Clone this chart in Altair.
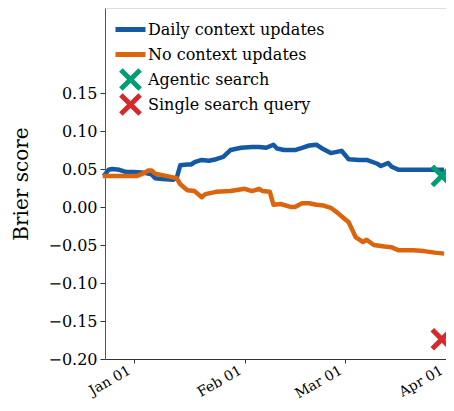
import altair as alt
import pandas as pd

# ---- data ----
series_names = ["Daily context updates", "No context updates", "Agentic search", "Single search query"]
series_colors = ["#1459a4", "#dc640c", "#009e73", "#d62a2a"]

blue_dates = ["2024-12-24", "2024-12-25", "2024-12-26", "2024-12-28", "2024-12-30", "2025-01-01",
              "2025-01-04", "2025-01-06", "2025-01-07", "2025-01-09", "2025-01-12", "2025-01-13",
              "2025-01-14", "2025-01-16", "2025-01-17", "2025-01-18", "2025-01-20", "2025-01-22",
              "2025-01-24", "2025-01-26", "2025-01-28", "2025-01-31", "2025-02-03", "2025-02-05",
              "2025-02-07", "2025-02-09", "2025-02-10", "2025-02-12", "2025-02-15", "2025-02-17",
              "2025-02-19", "2025-02-21", "2025-02-23", "2025-02-25", "2025-02-28", "2025-03-02",
              "2025-03-05", "2025-03-07", "2025-03-10", "2025-03-11", "2025-03-13", "2025-03-14",
              "2025-03-16", "2025-03-28"]
blue_vals = [0.043, 0.049, 0.050, 0.049, 0.046, 0.046,
             0.045, 0.043, 0.038, 0.037, 0.036, 0.038,
             0.055, 0.056, 0.056, 0.059, 0.062, 0.061,
             0.063, 0.066, 0.075, 0.078, 0.079, 0.079,
             0.078, 0.082, 0.077, 0.075, 0.075, 0.078,
             0.081, 0.082, 0.076, 0.071, 0.074, 0.063,
             0.062, 0.062, 0.057, 0.054, 0.058, 0.053,
             0.049, 0.049]

orange_dates = ["2024-12-24", "2025-01-02", "2025-01-04", "2025-01-05", "2025-01-06", "2025-01-07",
                "2025-01-08", "2025-01-10", "2025-01-12", "2025-01-13", "2025-01-14", "2025-01-16",
                "2025-01-18", "2025-01-20", "2025-01-21", "2025-01-24", "2025-01-28", "2025-02-01",
                "2025-02-03", "2025-02-05", "2025-02-06", "2025-02-08", "2025-02-09", "2025-02-11",
                "2025-02-14", "2025-02-15", "2025-02-17", "2025-02-19", "2025-02-21", "2025-02-23",
                "2025-02-25", "2025-02-27", "2025-02-28", "2025-03-02", "2025-03-03", "2025-03-04",
                "2025-03-06", "2025-03-07", "2025-03-09", "2025-03-12", "2025-03-14", "2025-03-16",
                "2025-03-20", "2025-03-23", "2025-03-26", "2025-03-28"]
orange_vals = [0.041, 0.041, 0.045, 0.048, 0.048, 0.044,
               0.043, 0.041, 0.039, 0.038, 0.030, 0.022,
               0.021, 0.013, 0.017, 0.020, 0.021, 0.024,
               0.021, 0.024, 0.021, 0.020, 0.003, 0.004,
               0.000, 0.000, 0.005, 0.005, 0.003, 0.002,
               -0.001, -0.008, -0.012, -0.020, -0.030, -0.040,
               -0.046, -0.043, -0.050, -0.052, -0.053, -0.057,
               -0.057, -0.058, -0.060, -0.061]

marker_names = ["Agentic search", "Single search query"]
marker_dates = ["2025-03-28", "2025-03-28"]
marker_vals = [0.041, -0.174]

y_ticks = [-0.20, -0.15, -0.10, -0.05, 0.00, 0.05, 0.10, 0.15]

# ---- tables ----
lines_df = pd.concat([
    pd.DataFrame({"date": blue_dates, "value": blue_vals, "series": series_names[0]}),
    pd.DataFrame({"date": orange_dates, "value": orange_vals, "series": series_names[1]}),
])
markers_df = pd.DataFrame({"date": marker_dates, "value": marker_vals, "series": marker_names})

FONT = "DejaVu Serif"
X_PATH = "M-0.64,-0.64L0.64,0.64M-0.64,0.64L0.64,-0.64M-1,0L-1,0M1,0L1,0"
LINE_PATH = "M-1,0L1,0M0,-0.64L0,-0.64M0,0.64L0,0.64"

x_scale = alt.Scale(type="utc",
                    domain=[alt.DateTime(year=2024, month=12, date=24, utc=True),
                            alt.DateTime(year=2025, month=4, date=1, hours=12, utc=True)])
y_scale = alt.Scale(domain=[-0.2, 0.262], nice=False, zero=False)

x_axis = alt.Axis(title=None, labelExpr="utcFormat(datum.value, '%b %d')", labelAngle=-30,
                  values=[alt.DateTime(year=2025, month=1, date=1, utc=True),
                          alt.DateTime(year=2025, month=2, date=1, utc=True),
                          alt.DateTime(year=2025, month=3, date=1, utc=True),
                          alt.DateTime(year=2025, month=4, date=1, utc=True)],
                  grid=False, labelFontSize=14, labelFont=FONT, labelColor="#000",
                  tickSize=4, labelPadding=0, domainColor="#333", tickColor="#333",
                  labelOffset={"condition": {"test": "datum.value > 1743000000000", "value": -18}, "value": -8},
                  labelBound=False, labelFlush=False, labelOverlap=False)
y_axis = alt.Axis(title="Brier score", values=y_ticks, format=".2f", grid=False,
                  labelFontSize=16, labelFont=FONT, labelColor="#000",
                  titleFontSize=20, titleFont=FONT, titleFontWeight="normal", titleColor="#000",
                  titlePadding=16, tickSize=5, labelPadding=3, domainColor="#555", tickColor="#333")

color = alt.Color("series:N", scale=alt.Scale(domain=series_names, range=series_colors),
                  legend=alt.Legend(title=None, orient="none", legendX=8, legendY=9,
                                    labelFont=FONT, labelFontSize=16, labelColor="#000",
                                    labelLimit=400, clipHeight=25,
                                    symbolSize=900, symbolStrokeWidth=5, labelOffset=0,
                                    rowPadding=0, padding=0))

lines = alt.Chart(lines_df).mark_line(strokeWidth=4.5, strokeCap="square", strokeJoin="round").encode(
    x=alt.X("date:T", scale=x_scale, axis=x_axis),
    y=alt.Y("value:Q", scale=y_scale, axis=y_axis),
    color=color,
    detail="series:N",
)

markers = alt.Chart(markers_df).mark_point(filled=False, strokeWidth=5, size=900, opacity=1).encode(
    x=alt.X("date:T", scale=x_scale, axis=x_axis),
    y=alt.Y("value:Q", scale=y_scale, axis=y_axis),
    color=color,
    shape=alt.Shape("series:N", scale=alt.Scale(domain=series_names,
                                                 range=[LINE_PATH, LINE_PATH, X_PATH, X_PATH])),
)

chart = alt.layer(lines, markers).properties(
    width=353, height=351,
    autosize=alt.AutoSizeParams(type="none"),
    padding={"left": 97, "top": 0, "right": -12, "bottom": 44},
).configure_view(stroke=None).configure(font=FONT)

chart.save("out.html", embed_options={"renderer": "svg", "actions": False})
